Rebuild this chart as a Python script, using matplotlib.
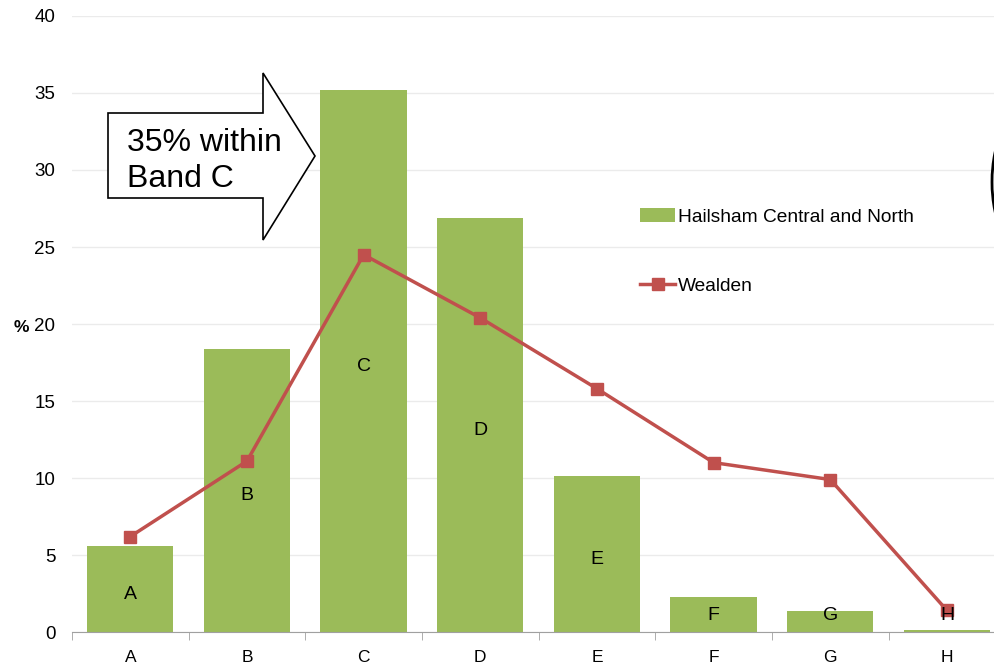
import matplotlib.pyplot as plt
from matplotlib.patches import Polygon, Arc

plt.rcParams["font.family"] = ["Liberation Sans", "DejaVu Sans"]

# ───────── data ─────────
bands = ["A", "B", "C", "D", "E", "F", "G", "H"]
hailsham = [5.6, 18.4, 35.2, 26.9, 10.1, 2.3, 1.35, 0.1]
wealden = [6.2, 11.1, 24.5, 20.4, 15.8, 11.0, 9.9, 1.4]

green = "#9BBB59"
red = "#C0504D"

fig = plt.figure(figsize=(9.94, 6.66), dpi=100)
ax = fig.add_axes([0.0724, 0.051, 0.939, 0.925])

x = range(len(bands))
bars = ax.bar(x, hailsham, width=0.74, color=green, label="Hailsham Central and North", zorder=2)
line, = ax.plot(x, wealden, color=red, lw=2.5, marker="s", markersize=8,
                label="Wealden", zorder=3)

# band letters inside the bars
for i, (b, v) in enumerate(zip(bands, hailsham)):
    ax.text(i, max(v / 2 - 0.35, 1.1), b, ha="center", va="center", fontsize=14, zorder=4)

ax.set_xlim(-0.5, len(bands) - 0.5)
ax.set_ylim(0, 40)
ax.set_yticks(range(0, 41, 5))
ax.set_xticks(list(x))
ax.set_xticklabels(bands)
ax.set_xticks([i - 0.5 for i in range(len(bands) + 1)], minor=True)
ax.tick_params(axis="x", which="major", length=0, labelsize=12.5, pad=13)
ax.tick_params(axis="x", which="minor", length=6, color="#a0a0a0")
ax.tick_params(axis="y", length=0, labelsize=13.5, pad=12)
ax.yaxis.grid(True, color="#ebebeb", lw=1)
ax.set_axisbelow(True)
for s in ["left", "right", "top"]:
    ax.spines[s].set_visible(False)
ax.spines["bottom"].set_color("#a0a0a0")

fig.text(0.014, 0.509, "%", fontsize=12.5, fontweight="bold", ha="left", va="center")

# callout arrow
W, H = 994, 666
pts = [(108, 113), (263, 113), (263, 73), (315, 156), (263, 240), (263, 198), (108, 198)]
arrow = Polygon([(px / W, 1 - py / H) for px, py in pts], closed=True,
                transform=fig.transFigure, facecolor="white", edgecolor="black",
                lw=1.2, zorder=10)
fig.patches.append(arrow)
fig.text(127 / W, 1 - 161 / H, "35% within\nBand C", fontsize=23, ha="left",
         va="center", linespacing=1.28, zorder=11)

# partially visible ellipse at the right edge
arc = Arc((1030 / W, 1 - 182 / H), 76 / W, 150 / H, transform=fig.transFigure,
          color="black", lw=2)
fig.patches.append(arc)

fig.legend(handles=[bars, line], loc="upper left", bbox_to_anchor=(0.627, 0.713),
           frameon=False, fontsize=13.8, labelspacing=2.7, handlelength=1.8,
           handletextpad=0.15)

fig.savefig("out.png", dpi=100)
